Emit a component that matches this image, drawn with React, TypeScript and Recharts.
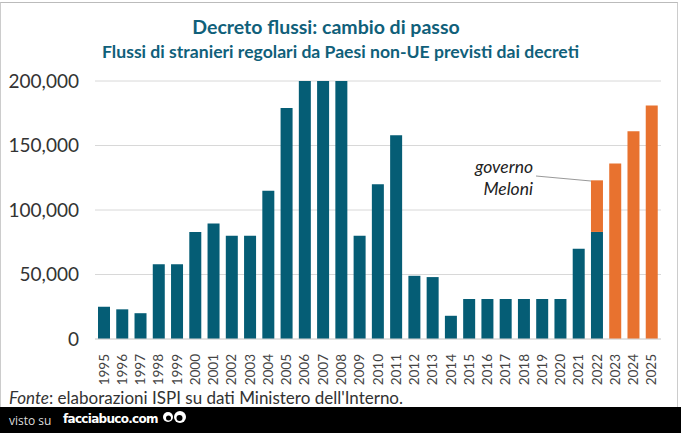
import { BarChart, Bar, XAxis, YAxis, CartesianGrid } from "recharts";

const years = [
  "1995", "1996", "1997", "1998", "1999", "2000", "2001", "2002", "2003", "2004", "2005",
  "2006", "2007", "2008", "2009", "2010", "2011", "2012", "2013", "2014", "2015", "2016",
  "2017", "2018", "2019", "2020", "2021", "2022", "2023", "2024", "2025",
];
const teal = [
  25000, 23000, 20000, 58000, 58000, 83000, 89500, 80000, 80000, 115000, 179000,
  200000, 200000, 200000, 80000, 120000, 158000, 49000, 48000, 18000, 31000, 31000,
  31000, 31000, 31000, 31000, 70000, 83000, 0, 0, 0,
];
const orange = [
  0, 0, 0, 0, 0, 0, 0, 0, 0, 0, 0,
  0, 0, 0, 0, 0, 0, 0, 0, 0, 0, 0,
  0, 0, 0, 0, 0, 40000, 136000, 161000, 181000,
];
const yTicks = [0, 50000, 100000, 150000, 200000];

const data = years.map((year, i) => ({ year, teal: teal[i], orange: orange[i] }));

const FONT = "Lato, 'Open Sans', sans-serif";
const TEAL = "#055d75";
const ORANGE = "#e8722f";

const YearTick = ({ x, y, payload }: any) => (
  <text
    transform={`translate(${x + 4.5},${y + 7}) rotate(-90)`}
    textAnchor="end"
    fontSize={13.5}
    fontFamily={FONT}
    fill="#444"
  >
    {payload.value}
  </text>
);

const App = () => {
  return (
    <div style={{ position: "absolute", left: 0, top: 0, width: 681, height: 433, background: "#fff", fontFamily: FONT, overflow: "hidden" }}>
      <div style={{ position: "absolute", left: 0, top: 2, width: 678, height: 405, borderTop: "1px solid #bbb", borderLeft: "1px solid #ccc", borderRight: "1px solid #ccc", boxSizing: "border-box" }} />

      <BarChart
        width={681}
        height={433}
        data={data}
        barSize={12}
        margin={{ top: 81, right: 20, bottom: 44, left: 0 }}
      >
        <CartesianGrid vertical={false} stroke="#d8d8d8" />
        <XAxis
          dataKey="year"
          interval={0}
          height={50}
          axisLine={{ stroke: "#d8d8d8" }}
          tickLine={false}
          tick={<YearTick />}
        />
        <YAxis
          width={95}
          domain={[0, 200000]}
          ticks={yTicks}
          axisLine={false}
          tickLine={false}
          tickMargin={10}
          tickFormatter={(v: number) => v.toLocaleString("en-US")}
          tick={{ fontSize: 19, fill: "#333", fontFamily: FONT }}
        />
        <Bar dataKey="teal" stackId="a" fill={TEAL} isAnimationActive={false} />
        <Bar dataKey="orange" stackId="a" fill={ORANGE} isAnimationActive={false} />
      </BarChart>

      <div style={{ position: "absolute", left: 0, width: 652, top: 15, textAlign: "center", fontSize: 19.5, fontWeight: 700, color: "#10607a", whiteSpace: "nowrap" }}>
        Decreto flussi: cambio di passo
      </div>
      <div style={{ position: "absolute", left: 0, width: 681, top: 41, textAlign: "center", fontSize: 17.6, fontWeight: 700, color: "#10607a", whiteSpace: "nowrap" }}>
        Flussi di stranieri regolari da Paesi non-UE previsti dai decreti
      </div>

      <div style={{ position: "absolute", left: 440, width: 93, top: 156, textAlign: "right", fontSize: 17.5, fontStyle: "italic", lineHeight: "22px", color: "#222" }}>
        governo
        <br />
        Meloni
      </div>
      <svg width={681} height={433} style={{ position: "absolute", left: 0, top: 0, pointerEvents: "none" }}>
        <line x1={536} y1={176} x2={591} y2={181} stroke="#999" strokeWidth={1} />
      </svg>

      <div style={{ position: "absolute", left: 9, top: 387, fontSize: 17, color: "#333", whiteSpace: "nowrap" }}>
        <i>Fonte</i>: elaborazioni ISPI su dati Ministero dell'Interno.
      </div>

      <div style={{ position: "absolute", left: 0, top: 407, width: 681, height: 26, background: "#000" }}>
        <span style={{ position: "absolute", left: 9, top: 5, fontSize: 12, color: "#ddd", fontFamily: "'Open Sans', sans-serif" }}>visto su</span>
        <span style={{ position: "absolute", left: 63, top: 5, fontSize: 12, fontWeight: 700, color: "#fff", fontFamily: "'DejaVu Sans', sans-serif", letterSpacing: -0.7 }}>facciabuco.com</span>
        <svg width={30} height={26} style={{ position: "absolute", left: 162, top: 0 }}>
          <circle cx={6} cy={10} r={5} fill="#fff" />
          <circle cx={6.5} cy={11} r={2.5} fill="#000" />
          <circle cx={18} cy={10} r={6} fill="#fff" />
          <circle cx={17.5} cy={11} r={3} fill="#000" />
        </svg>
      </div>
    </div>
  );
};

export default App;
